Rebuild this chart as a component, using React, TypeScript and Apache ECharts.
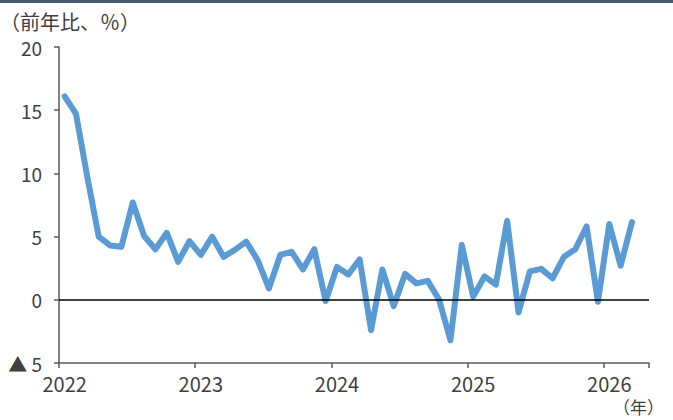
import React, { useEffect, useRef } from "react";
import * as echarts from "echarts";

// Monthly categories, Jan 2022 – Apr 2026
const years = [2022, 2023, 2024, 2025, 2026];
const months: string[] = [];
years.forEach((y) => {
  for (let m = 1; m <= 12; m++) {
    if (y === 2026 && m > 4) break;
    months.push(`${y}-${String(m).padStart(2, "0")}`);
  }
});

// Year-on-year change (%)
const yoyValues: (number | null)[] = [
  16.1, 14.7, 9.7, 5.0, 4.3, 4.2, 7.7, 5.05, 4.0, 5.3, 3.0, 4.65,
  3.55, 5.0, 3.4, 3.95, 4.6, 3.15, 0.9, 3.55, 3.8, 2.4, 4.0, -0.1,
  2.6, 2.0, 3.2, -2.4, 2.4, -0.5, 2.05, 1.3, 1.5, 0.0, -3.2, 4.35,
  0.25, 1.85, 1.2, 6.25, -1.0, 2.25, 2.45, 1.7, 3.4, 4.0, 5.8, -0.15,
  6.0, 2.7, 6.15, null,
];

const yTicks = { min: -5, max: 20, interval: 5 };

const FONT = "'Noto Sans CJK JP', 'Noto Sans', sans-serif";
const TEXT = "#404040";
const AXIS = "#595959";

export default function App() {
  const ref = useRef<HTMLDivElement>(null);

  useEffect(() => {
    if (!ref.current) return;
    const chart = echarts.init(ref.current, undefined, { renderer: "svg" });
    chart.setOption({
      animation: false,
      backgroundColor: "#ffffff",
      textStyle: { fontFamily: FONT },
      grid: { left: 59, right: 24, top: 47, bottom: 57 },
      graphic: [
        {
          type: "rect",
          left: 0,
          top: 0,
          shape: { width: 673, height: 3 },
          style: { fill: "#4a5a72" },
        },
        {
          type: "text",
          left: 0,
          top: 11,
          style: {
            text: "（前年比、％）",
            fontSize: 20,
            fontFamily: FONT,
            fill: TEXT,
          },
        },
        {
          type: "text",
          right: 9,
          top: 398,
          style: {
            text: "（年）",
            fontSize: 17,
            fontFamily: FONT,
            fill: TEXT,
          },
        },
      ],
      xAxis: {
        type: "category",
        data: months,
        boundaryGap: true,
        axisLine: { onZero: false, lineStyle: { color: AXIS, width: 1.5 } },
        axisTick: {
          show: true,
          interval: 11,
          length: 5,
          lineStyle: { color: AXIS, width: 1.5 },
        },
        axisLabel: {
          interval: 11,
          margin: 10,
          fontSize: 20,
          fontFamily: FONT,
          color: TEXT,
          formatter: (v: string) => v.slice(0, 4),
        },
        splitLine: { show: false },
      },
      yAxis: {
        type: "value",
        min: yTicks.min,
        max: yTicks.max,
        interval: yTicks.interval,
        axisLine: { show: true, lineStyle: { color: AXIS, width: 1.5 } },
        axisTick: {
          show: true,
          length: 5,
          lineStyle: { color: AXIS, width: 1.5 },
        },
        axisLabel: {
          margin: 17,
          fontSize: 19,
          fontFamily: FONT,
          color: TEXT,
          formatter: (v: number) => (v < 0 ? `▲ ${Math.abs(v)}` : `${v}`),
        },
        splitLine: { show: false },
      },
      series: [
        {
          type: "line",
          data: yoyValues,
          symbol: "none",
          lineStyle: { color: "#5b9bd5", width: 6, cap: "round", join: "round" },
          markLine: {
            silent: true,
            symbol: "none",
            label: { show: false },
            lineStyle: { color: "#000000", width: 1.5, type: "solid" },
            data: [{ yAxis: 0 }],
          },
        },
      ],
    });
    return () => chart.dispose();
  }, []);

  return (
    <div
      ref={ref}
      style={{ position: "fixed", left: 0, top: 0, width: 673, height: 420 }}
    />
  );
}
